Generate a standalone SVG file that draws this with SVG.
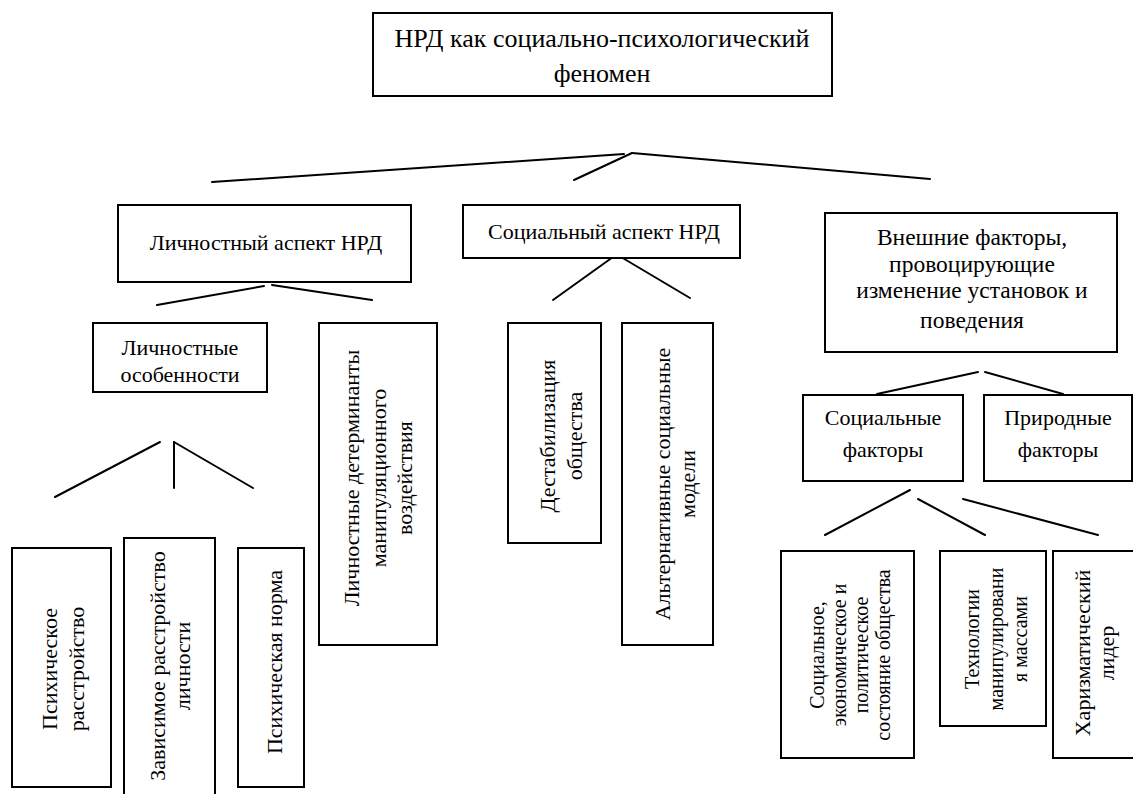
<svg xmlns="http://www.w3.org/2000/svg" width="1133" height="794" viewBox="0 0 1133 794">
<style>
  .box { fill: #ffffff; stroke: #000000; stroke-width: 2; }
  text { font-family: 'Liberation Serif', 'DejaVu Serif', 'Times New Roman', serif; font-size: 22px; fill: #000000; text-anchor: middle; }
  .big { font-size: 26px; }
  .mid { font-size: 23.5px; }
  .sm { font-size: 20px; }
  .ln { stroke: #000000; stroke-width: 2; fill: none; stroke-linecap: round; }
</style>
<rect width="1133" height="794" fill="#ffffff"/>

<g id="connectors">
  <path class="ln" d="M212,182 L624,154"/>
  <path class="ln" d="M632,153 L930,179"/>
  <path class="ln" d="M632,153 L574,180"/>
  <path class="ln" d="M157,305 L264,286"/>
  <path class="ln" d="M272,285 L372,300"/>
  <path class="ln" d="M613,257 L553,300"/>
  <path class="ln" d="M621,257 L690,298"/>
  <path class="ln" d="M160,442 L55,497"/>
  <path class="ln" d="M174,442 L174,488"/>
  <path class="ln" d="M174,442 L253,488"/>
  <path class="ln" d="M978,372 L877,394"/>
  <path class="ln" d="M985,372 L1063,394"/>
  <path class="ln" d="M910,490 L825,535"/>
  <path class="ln" d="M918,499 L985,535"/>
  <path class="ln" d="M963,499 L1098,535"/>
</g>

<g id="root">
  <rect class="box" x="373" y="13" width="459" height="83"/>
  <text class="big" x="602" y="47">НРД как социально-психологический</text>
  <text class="big" x="602" y="82">феномен</text>
</g>

<g id="personal-aspect">
  <rect class="box" x="118" y="205" width="293" height="77"/>
  <text x="266" y="250">Личностный аспект НРД</text>
</g>

<g id="social-aspect">
  <rect class="box" x="463" y="205" width="277" height="53"/>
  <text x="604" y="239">Социальный аспект НРД</text>
</g>

<g id="external-factors">
  <rect class="box" x="825" y="213" width="292" height="139"/>
  <text class="mid" x="972" y="245">Внешние факторы,</text>
  <text class="mid" x="972" y="272">провоцирующие</text>
  <text class="mid" x="972" y="298">изменение установок и</text>
  <text class="mid" x="972" y="328">поведения</text>
</g>

<g id="personal-features">
  <rect class="box" x="93" y="323" width="174" height="69"/>
  <text x="180" y="355">Личностные</text>
  <text x="180" y="382">особенности</text>
</g>

<g id="personal-determinants">
  <rect class="box" x="319" y="323" width="118" height="322"/>
  <text transform="translate(359,478) rotate(-90)"><tspan x="0" dy="0">Личностные детерминанты</tspan><tspan x="0" dy="26.5">манипуляционного</tspan><tspan x="0" dy="26.5">воздействия</tspan></text>
</g>

<g id="destabilization">
  <rect class="box" x="508" y="323" width="93" height="220"/>
  <text transform="translate(555,436) rotate(-90)"><tspan x="0" dy="0">Дестабилизация</tspan><tspan x="0" dy="27">общества</tspan></text>
</g>

<g id="alternative-models">
  <rect class="box" x="622" y="323" width="91" height="322"/>
  <text transform="translate(670,484) rotate(-90)"><tspan x="0" dy="0">Альтернативные социальные</tspan><tspan x="0" dy="25">модели</tspan></text>
</g>

<g id="mental-disorder">
  <rect class="box" x="12" y="548" width="99" height="239"/>
  <text transform="translate(57,669) rotate(-90)"><tspan x="0" dy="0">Психическое</tspan><tspan x="0" dy="27">расстройство</tspan></text>
</g>

<g id="dependent-disorder">
  <rect class="box" x="124" y="538" width="91" height="262"/>
  <text transform="translate(165,666) rotate(-90)"><tspan x="0" dy="0">Зависимое расстройство</tspan><tspan x="0" dy="25">личности</tspan></text>
</g>

<g id="mental-norm">
  <rect class="box" x="238" y="548" width="66" height="239"/>
  <text transform="translate(282,662) rotate(-90)">Психическая норма</text>
</g>

<g id="social-factors">
  <rect class="box" x="803" y="395" width="160" height="86"/>
  <text x="883" y="425">Социальные</text>
  <text x="883" y="457">факторы</text>
</g>

<g id="natural-factors">
  <rect class="box" x="984" y="395" width="148" height="86"/>
  <text x="1058" y="425">Природные</text>
  <text x="1058" y="457">факторы</text>
</g>

<g id="society-state">
  <rect class="box" x="781" y="551" width="133" height="207"/>
  <text class="sm" transform="translate(824,655) rotate(-90)"><tspan x="0" dy="0">Социальное,</tspan><tspan x="0" dy="22">экономическое и</tspan><tspan x="0" dy="22">политическое</tspan><tspan x="0" dy="22">состояние общества</tspan></text>
</g>

<g id="manipulation-tech">
  <rect class="box" x="940" y="551" width="106" height="175"/>
  <text class="sm" transform="translate(979,639) rotate(-90)"><tspan x="0" dy="0">Технологии</tspan><tspan x="0" dy="24">манипулировани</tspan><tspan x="0" dy="24">я массами</tspan></text>
</g>

<g id="charismatic-leader">
  <rect class="box" x="1053" y="551" width="82" height="207"/>
  <text transform="translate(1090,653) rotate(-90)"><tspan x="0" dy="0">Харизматический</tspan><tspan x="0" dy="24">лидер</tspan></text>
</g>
</svg>
